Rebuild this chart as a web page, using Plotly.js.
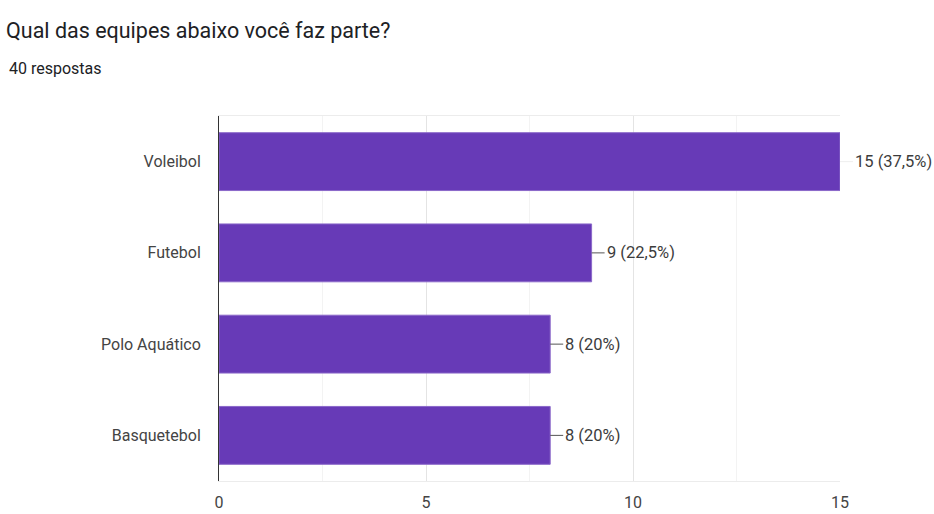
<!DOCTYPE html>
<html>
<head>
<meta charset="utf-8">
<script src="https://cdn.plot.ly/plotly-3.0.1.min.js"></script>
<style>
  html, body { margin: 0; padding: 0; background: #ffffff; }
  #chart { width: 934px; height: 514px; }
</style>
</head>
<body>
<div id="chart"></div>
<script>
const chartTitle = "Qual das equipes abaixo você faz parte?";
const responsesLabel = "40 respostas";
const totalResponses = 40;
const categories = ["Voleibol", "Futebol", "Polo Aquático", "Basquetebol"];
const counts = [15, 9, 8, 8];
const xTickValues = [0, 5, 10, 15];

function fmtPct(v) {
  const p = Math.round(v / totalResponses * 1000) / 10;
  return String(p).replace('.', ',') + '%';
}
const labels = counts.map(c => c + ' (' + fmtPct(c) + ')');
const maxCount = Math.max.apply(null, counts);

const font = "Roboto, 'Noto Sans', Arial, sans-serif";

const trace = {
  type: 'bar',
  orientation: 'h',
  y: categories,
  x: counts,
  marker: { color: '#673ab7', line: { color: '#8a68c9', width: 1 } },
  hoverinfo: 'skip'
};

const annotations = categories.map((cat, i) => ({
  x: counts[i], y: cat, xref: 'x', yref: 'y',
  text: labels[i],
  showarrow: true, arrowhead: 0, arrowwidth: 1,
  arrowcolor: counts[i] === maxCount ? '#eeeeee' : '#555555',
  ax: counts[i] === maxCount ? 13 : 13, ay: 0,
  xanchor: 'left', yanchor: 'middle', standoff: 0,
  font: { family: font, size: 16.5, color: '#3c3c3c' }
}));

annotations.push({
  text: responsesLabel, xref: 'paper', yref: 'paper',
  x: (7 - 219) / 621, y: 1 + (116 - 68) / 365,
  xanchor: 'left', yanchor: 'middle', showarrow: false,
  font: { family: font, size: 16, color: '#202124' }
});

const layout = {
  width: 934, height: 514,
  margin: { l: 219, r: 94, t: 116, b: 33, pad: 0 },
  paper_bgcolor: '#ffffff', plot_bgcolor: '#ffffff',
  title: {
    text: chartTitle, xref: 'container', yref: 'container',
    x: 6 / 934, xanchor: 'left', y: 1 - 30 / 514, yanchor: 'middle',
    font: { family: font, size: 21.5, color: '#202124' }
  },
  showlegend: false,
  bargap: 0.366,
  xaxis: {
    range: [0, 15], tickvals: xTickValues, ticktext: xTickValues.map(String),
    showgrid: true, gridcolor: '#e4e4e4', gridwidth: 1,
    minor: { dtick: 2.5, tick0: 0, showgrid: true, gridcolor: '#f3f3f3', gridwidth: 1 },
    zeroline: false,
    showline: true, linecolor: '#ececec', linewidth: 1, mirror: true,
    ticks: 'outside', ticklen: 7, tickcolor: 'rgba(0,0,0,0)',
    tickfont: { family: font, size: 16, color: '#444444' },
    fixedrange: true
  },
  yaxis: {
    autorange: 'reversed', showgrid: false, zeroline: false,
    showline: true, linecolor: '#333333', linewidth: 1,
    ticks: 'outside', ticklen: 14, tickcolor: 'rgba(0,0,0,0)',
    tickfont: { family: font, size: 16, color: '#444444' },
    fixedrange: true
  },
  annotations: annotations
};

Plotly.newPlot('chart', [trace], layout, { displayModeBar: false, staticPlot: true });
</script>
</body>
</html>
